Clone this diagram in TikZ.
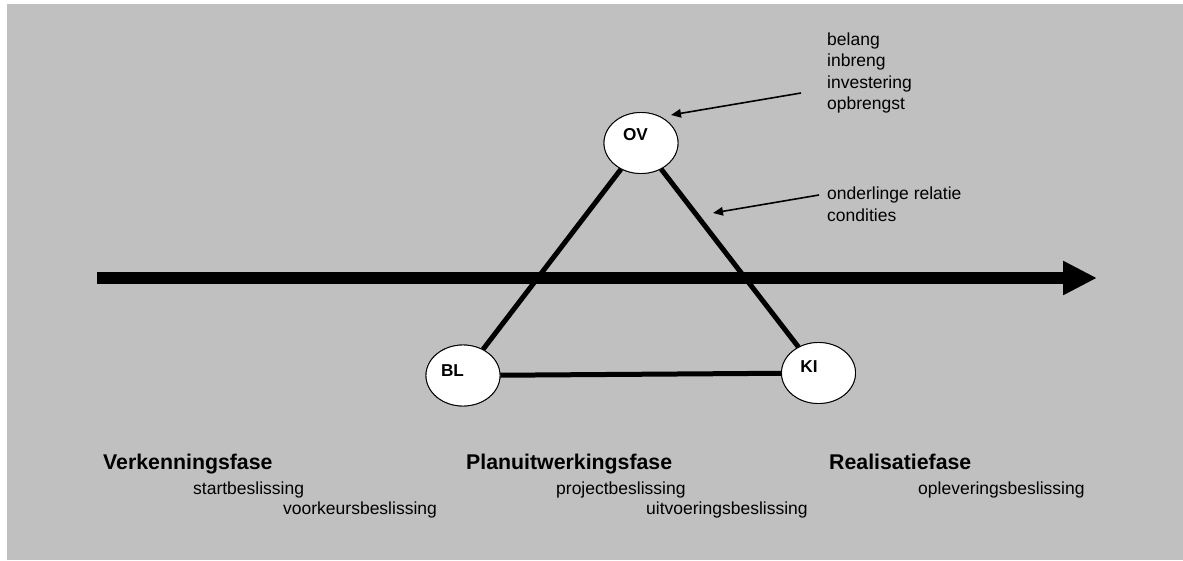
\documentclass[tikz,border=0pt]{standalone}
\usepackage{fontspec}
\setmainfont{Liberation Sans}
\usetikzlibrary{arrows.meta,shapes.geometric}
\definecolor{bg}{HTML}{C0C0C0}
\begin{document}
\begin{tikzpicture}[x=1pt,y=-1pt,
  ell/.style={draw=black, line width=0.9pt, fill=white, ellipse, minimum width=74pt, minimum height=61pt, inner sep=0pt},
  lbl/.style={font=\fontsize{17.2}{20}\selectfont\bfseries, inner sep=0pt},
  txt/.style={font=\fontsize{17.5}{20}\selectfont, inner sep=0pt, anchor=base west},
  head/.style={font=\fontsize{21.3}{25}\selectfont\bfseries, inner sep=0pt, anchor=base west},
  edge/.style={line width=5pt, black},
  thin/.style={line width=1.6pt, -{Triangle[length=10pt,width=8.5pt]}}]
\useasboundingbox (0,0) rectangle (1183,560);
\fill[white] (0,0) rectangle (1183,560);
\fill[bg] (7,4) rectangle (1183,560);
% main arrow
\coordinate (a0) at (97,278);
\coordinate (a1) at (1097,278);
\draw[line width=12pt, -{Triangle[length=34pt,width=32pt]}] (a0) -- (a1);
% ellipses
\node[ell] (OV) at (641,143) {};
\node[ell] (BL) at (463,375.5) {};
\node[ell] (KI) at (818.5,373) {};
\draw[edge] (OV) -- (BL);
\draw[edge] (OV) -- (KI);
\draw[edge] (BL) -- (KI);
\node[ell] at (OV) {};
\node[ell] at (BL) {};
\node[ell] at (KI) {};
\node[lbl] (OVt) at (635.5,135) {OV};
\node[lbl] (BLt) at (452.5,371) {BL};
\node[lbl] (KIt) at (809,367) {KI};
% annotations
\node[txt] (t1) at (827,45) {belang};
\node[txt] (t2) at (827,66.5) {inbreng};
\node[txt] (t3) at (827,88) {investering};
\node[txt] (t4) at (827,109.5) {opbrengst};
\node[txt] (r1) at (827,199.5) {onderlinge relatie};
\node[txt] (r2) at (827,221) {condities};
\coordinate (p0) at (801,93);
\coordinate (p1) at (671,115);
\draw[thin] (p0) -- (p1);
\coordinate (q0) at (819,195);
\coordinate (q1) at (713,213);
\draw[thin] (q0) -- (q1);
% phases
\node[head] (h1) at (103,469) {Verkenningsfase};
\node[txt] (s1) at (193,494) {startbeslissing};
\node[txt] (s2) at (283,514.5) {voorkeursbeslissing};
\node[head] (h2) at (466,469) {Planuitwerkingsfase};
\node[txt] (s3) at (556,494) {projectbeslissing};
\node[txt] (s4) at (646,514.5) {uitvoeringsbeslissing};
\node[head] (h3) at (829,469) {Realisatiefase};
\node[txt] (s5) at (918,494) {opleveringsbeslissing};
\end{tikzpicture}
\end{document}
